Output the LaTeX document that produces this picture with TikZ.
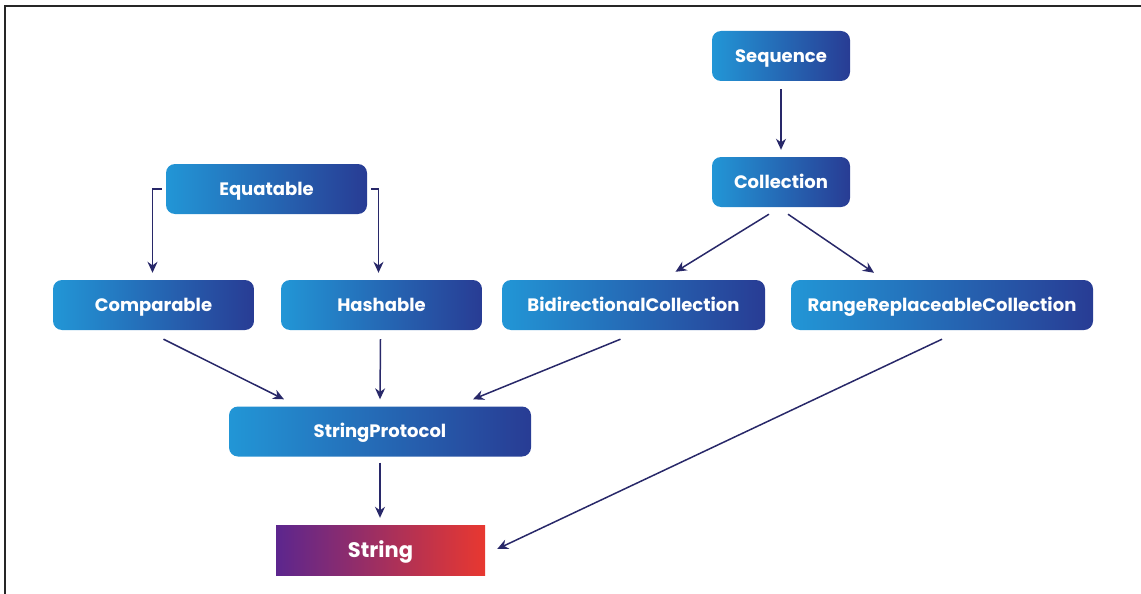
\documentclass[tikz,border=0pt]{standalone}
\usepackage{fontspec}
\setmainfont{Poppins}
\usetikzlibrary{arrows.meta}
\definecolor{boxL}{RGB}{34,150,214}
\definecolor{boxR}{RGB}{40,60,148}
\definecolor{strL}{RGB}{92,38,142}
\definecolor{strR}{RGB}{232,56,48}
\definecolor{edge}{RGB}{40,40,105}
\tikzset{
  proto/.style={rounded corners=9pt, left color=boxL, right color=boxR,
    draw=none, inner sep=0pt, minimum height=50pt,
    text height=12.8pt, text depth=0pt,
    text=white, font=\fontsize{18}{20}\selectfont\bfseries},
  concrete/.style={left color=strL, right color=strR, draw=none,
    inner sep=0pt, minimum height=50pt, minimum width=209pt,
    text height=14.8pt, text depth=0pt,
    text=white, font=\fontsize{21}{23}\selectfont\bfseries},
  link/.style={draw=edge, line width=1.5pt,
    -{Stealth[length=11pt,width=10pt]}}
}
\begin{document}
\begin{tikzpicture}[x=1pt,y=-1pt]
\useasboundingbox (0,0) rectangle (1141,594);
% outer frame (left and top edges)
\draw[line width=1.4pt, black!85] (5,594) -- (5,6) -- (1141,6);

% protocol nodes
\node[proto, minimum width=138pt] (seq) at (781,56) {Sequence};
\node[proto, minimum width=138pt] (col) at (781,182) {Collection};
\node[proto, minimum width=201pt] (eq)  at (266.5,189) {Equatable};
\node[proto, minimum width=201pt] (cmp) at (153.5,305) {Comparable};
\node[proto, minimum width=201pt] (hsh) at (381.5,305) {Hashable};
\node[proto, minimum width=263pt] (bid) at (633.5,305) {BidirectionalCollection};
\node[proto, minimum width=302pt] (rrc) at (942,305) {RangeReplaceableCollection};
\node[proto, minimum width=302pt] (sp)  at (380,431.5) {StringProtocol};
\node[concrete] (str) at (380.5,550) {String};

% inheritance arrows
\draw[link] ([shift={(0,8)}]seq.south) -- ([shift={(0,-7)}]col.north);
\draw[link] ([xshift=-4pt]eq.west) -| ([shift={(-1,-7)}]cmp.north);
\draw[link] ([xshift=4pt]eq.east) -| ([shift={(-3,-7)}]hsh.north);
\draw[link] ([shift={(-12,7)}]col.south) -- ([shift={(42,-8)}]bid.north);
\draw[link] ([shift={(7,7)}]col.south) -- ([shift={(-68,-7)}]rrc.north);
\draw[link] ([shift={(10,9)}]cmp.south) -- ([shift={(-96,-7)}]sp.north);
\draw[link] ([shift={(-1,9)}]hsh.south) -- ([shift={(0,-7)}]sp.north);
\draw[link] ([shift={(-13,9)}]bid.south) -- ([shift={(93,-7)}]sp.north);
\draw[link] ([shift={(0,6)}]sp.south) -- ([shift={(-0.5,-7)}]str.north);
\draw[link] ([shift={(0,9)}]rrc.south) -- ([shift={(12,-1)}]str.east);
\end{tikzpicture}
\end{document}
